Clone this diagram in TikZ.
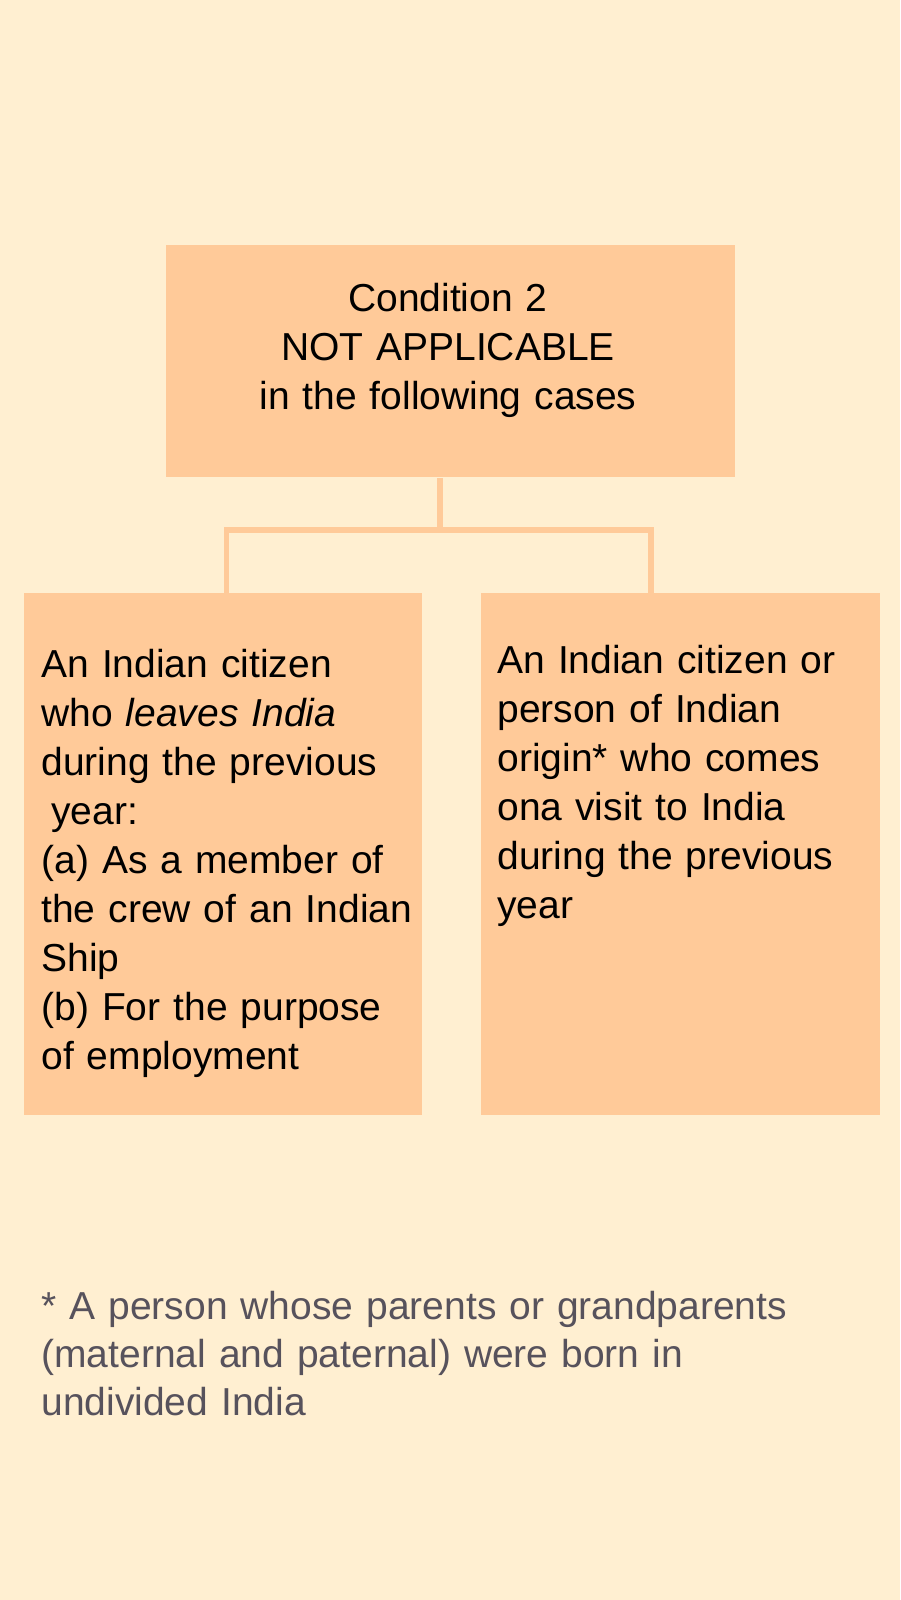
\documentclass[tikz,border=0pt]{standalone}
\usepackage{fontspec}
\setmainfont{Liberation Sans}
\usetikzlibrary{positioning}
\definecolor{bgcream}{RGB}{255,239,209}
\definecolor{boxpeach}{RGB}{255,202,153}
\definecolor{notegray}{RGB}{87,82,92}

\begin{document}
\begin{tikzpicture}[x=0.5pt, y=-0.5pt,
  box/.style={fill=boxpeach, draw=none, inner sep=0pt, anchor=north west},
  body/.style={font=\fontsize{19.5pt}{24.5pt}\selectfont, inner sep=0pt, align=left},
  link/.style={draw=boxpeach, line width=2.75pt}]
\fill[bgcream] (0,0) rectangle (900,1600);
\useasboundingbox (0,0) rectangle (900,1600);

% boxes
\node[box, minimum width=284.5pt, minimum height=116pt] (cond) at (166,245) {};
\node[box, minimum width=199pt, minimum height=261pt] (leave) at (23.5,593) {};
\node[box, minimum width=199.5pt, minimum height=261pt] (visit) at (481,593) {};

% texts
\node[body, align=center, text width=270pt, anchor=base] (condtxt) at (448,311) {Condition 2\\NOT APPLICABLE\\in the following cases};
\node[body, text width=200pt, anchor=base west] (leavetxt) at (41,677) {An Indian citizen\\who \textit{leaves India}\\during the previous\\\hspace*{0.25em}year:\\(a) As a member of\\the crew of an Indian\\Ship\\(b) For the purpose\\of employment};
\node[body, text width=200pt, anchor=base west] (visittxt) at (497,673) {An Indian citizen or\\person of Indian\\origin* who comes\\ona visit to India\\during the previous\\year};
\node[body, font=\fontsize{19.5pt}{24pt}\selectfont, text=notegray, text width=420pt, anchor=base west] (note) at (41,1319) {* A person whose parents or grandparents\\(maternal and paternal) were born in\\undivided India};

% connectors
\coordinate (fork) at (440,530);
\coordinate (forkl) at (226.5,530);
\coordinate (forkr) at (651,530);
\draw[link] (cond.south -| fork) -- (fork);
\draw[link] (leave.north -| forkl) -- (forkl) -- (forkr) -- (visit.north -| forkr);

\end{tikzpicture}
\end{document}
